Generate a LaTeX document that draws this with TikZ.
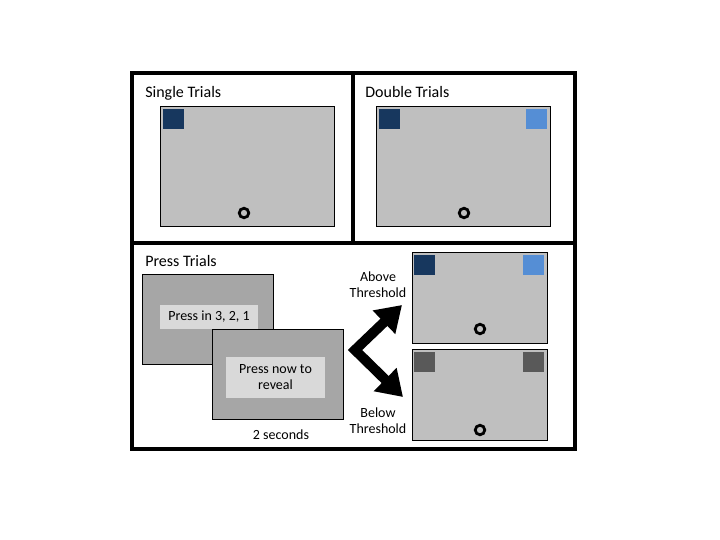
\documentclass[tikz,border=0pt]{standalone}
\usepackage{fontspec}
\setmainfont{Carlito}
\usetikzlibrary{arrows.meta,shadows,calc}

\definecolor{screengray}{HTML}{BFBFBF}
\definecolor{pressgray}{HTML}{A6A6A6}
\definecolor{promptgray}{HTML}{D9D9D9}
\definecolor{navy}{HTML}{17375E}
\definecolor{skyblue}{HTML}{558ED5}
\definecolor{dimgray}{HTML}{595959}

\tikzset{
  every node/.style={outer sep=0pt},
  panel/.style={draw, line width=3.5pt, anchor=north west, inner sep=0pt},
  screen/.style={draw, fill=screengray, line width=0.8pt, anchor=north west,
    inner sep=0pt, minimum width=174pt, minimum height=120pt,
    drop shadow={shadow xshift=0.8pt, shadow yshift=-1.2pt, opacity=0.35}},
  smallscreen/.style={screen, minimum width=135pt, minimum height=91pt},
  pressscreen/.style={draw, fill=pressgray, line width=0.8pt, anchor=north west,
    inner sep=0pt, minimum width=131pt, minimum height=90pt,
    drop shadow={shadow xshift=0.8pt, shadow yshift=-1.2pt, opacity=0.3}},
  prompt/.style={fill=promptgray, anchor=north west, inner sep=0pt,
    font=\fontsize{14}{16}\selectfont, align=center},
  patch/.style={anchor=north west, inner sep=0pt, minimum width=21pt, minimum height=20pt},
  fixation/.style={circle, draw, line width=2.8pt, inner sep=0pt, minimum size=9.5pt},
  title/.style={anchor=base west, font=\fontsize{16}{18}\selectfont},
  label/.style={font=\fontsize{14}{16}\selectfont, align=center},
  fatarrow/.style={line width=10pt, line join=miter,
    {Triangle[length=25pt,width=31pt]}-{Triangle[length=25pt,width=31pt]}}
}

\begin{document}
\begin{tikzpicture}[x=1pt,y=-1pt]
  \fill[white] (0,0) rectangle (720,540);
  \useasboundingbox (0,0) rectangle (720,540);

  % three framed panels
  \node[panel, minimum width=221pt, minimum height=170pt] (psingle) at (132,73) {};
  \node[panel, minimum width=222pt, minimum height=170pt] (pdouble) at (353,73) {};
  \node[panel, minimum width=443pt, minimum height=206pt] (ppress) at (132,243) {};

  % single trials
  \node[title] (tsingle) at (142,98) {Single Trials};
  \node[screen] (ssingle) at (160,106) {};
  \node[patch, fill=navy] (sqsingle) at ($(ssingle.north west)+(3,3)$) {};
  \node[fixation] (fsingle) at (244,213) {};

  % double trials
  \node[title] (tdouble) at (362,98) {Double Trials};
  \node[screen] (sdouble) at (376,106) {};
  \node[patch, fill=navy] (sqdoubleL) at ($(sdouble.north west)+(3,3)$) {};
  \node[patch, fill=skyblue, anchor=north east] (sqdoubleR) at ($(sdouble.north east)+(-3,3)$) {};
  \node[fixation] (fdouble) at (464,213) {};

  % press trials
  \node[title] (tpress) at (142,266) {Press Trials};
  \node[pressscreen] (pone) at (142,274) {};
  \node[prompt, minimum width=98pt, minimum height=24pt] (promptone) at (160,305) {Press in 3, 2, 1};
  \node[pressscreen] (ptwo) at (212,329) {};
  \node[prompt, minimum width=99pt, minimum height=41pt] (prompttwo) at (226,357) {Press now to\\reveal};
  \node[label] (dur) at (281,435) {2 seconds};

  % outcome screens
  \node[smallscreen] (above) at (412,252) {};
  \node[patch, fill=navy] (sqaboveL) at ($(above.north west)+(2,3)$) {};
  \node[patch, fill=skyblue, anchor=north east] (sqaboveR) at ($(above.north east)+(-3,3)$) {};
  \node[fixation] (fabove) at (480,329) {};

  \node[smallscreen] (below) at (412,349) {};
  \node[patch, fill=dimgray] (sqbelowL) at ($(below.north west)+(2,3)$) {};
  \node[patch, fill=dimgray, anchor=north east] (sqbelowR) at ($(below.north east)+(-3,3)$) {};
  \node[fixation] (fbelow) at (480,430) {};

  \node[label] (labove) at (378,285) {Above\\Threshold};
  \node[label] (lbelow) at (378,421) {Below\\Threshold};

  % forked arrow to the two outcomes
  \coordinate (fork) at (355,350);
  \coordinate (uptip) at (402,305);
  \coordinate (downtip) at (403,397);
  \draw[fatarrow] (uptip) -- (fork) -- (downtip);
\end{tikzpicture}
\end{document}
